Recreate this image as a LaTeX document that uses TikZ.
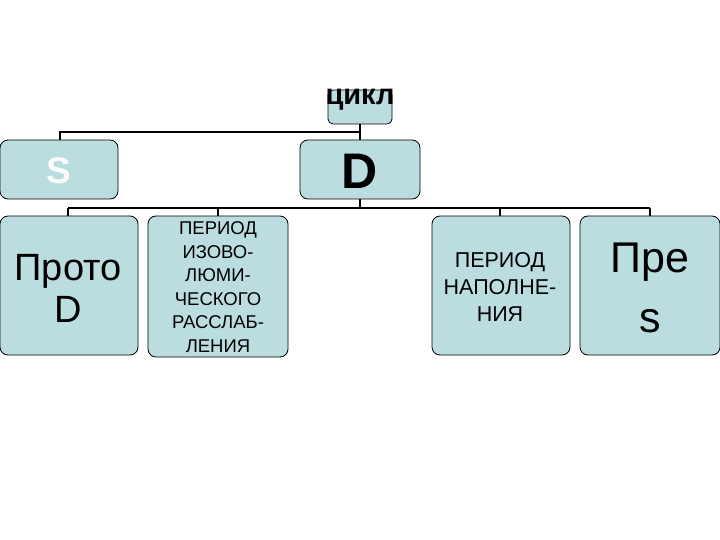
\documentclass[tikz,border=0pt]{standalone}
\usepackage{fontspec}
\setmainfont{Liberation Sans}
\definecolor{boxfill}{HTML}{BCDDE0}
\begin{document}
\begin{tikzpicture}[x=1pt,y=-1pt,
  box/.style={draw=black,line width=0.8pt,fill=boxfill,rounded corners=8pt},
  conn/.style={line width=2pt}]
\useasboundingbox (0,0) rectangle (720,540);
\fill[white] (0,0) rectangle (720,540);
% connectors
\coordinate (h1l) at (60,132); \coordinate (h1r) at (360,132);
\coordinate (h2l) at (68,208); \coordinate (h2r) at (650,208);
\draw[conn] (360,124) -- (h1r) -- (h1l) -- (60,140);
\draw[conn] (h1r) -- (360,140);
\draw[conn] (360,199) -- (360,208);
\draw[conn] (h2l) -- (h2r);
\foreach \x in {68,218,500,650} \draw[conn] (\x,208) -- (\x,216);
% boxes
\draw[box,rounded corners=5pt] (328,90) rectangle (392,124);
\node[font=\fontsize{29}{29}\bfseries\selectfont] (cikl) at (360,100) {цикл};
\draw[box] (0,140) rectangle (118,199);
\node[font=\fontsize{37}{37}\bfseries\selectfont,text=white!92!boxfill] (S) at (59,171) {S};
\draw[box] (300,140) rectangle (420,199);
\node[font=\fontsize{50}{50}\bfseries\selectfont] (D) at (360,171) {D};
\draw[box] (0,216) rectangle (138,355);
\node[align=center,font=\fontsize{38}{42}\selectfont] (p1) at (68,288) {Прото\\D};
\draw[box] (148,216) rectangle (288,357);
\node[align=center,font=\fontsize{18.5}{23.5}\selectfont] (p2) at (218,287) {ПЕРИОД\\ИЗОВО-\\ЛЮМИ-\\ЧЕСКОГО\\РАССЛАБ-\\ЛЕНИЯ};
\draw[box] (432,216) rectangle (570,355);
\node[align=center,font=\fontsize{21.5}{27}\selectfont] (p3) at (500,287) {ПЕРИОД\\НАПОЛНЕ-\\НИЯ};
\draw[box] (580,216) rectangle (720,355);
\node[align=center,font=\fontsize{43}{60}\selectfont] (p4) at (650,288) {Пре\\s};
\end{tikzpicture}
\end{document}
